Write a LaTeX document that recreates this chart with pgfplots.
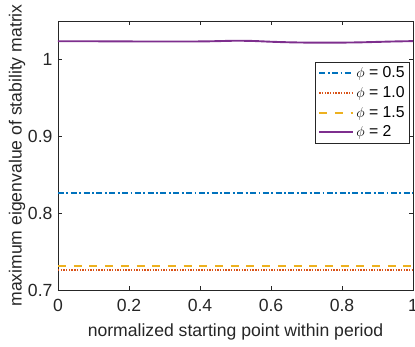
\documentclass[border=0pt]{standalone}
\usepackage{pgfplots}
\pgfplotsset{compat=1.18}
\usepackage{fontspec}
\setmainfont{Liberation Sans}
\definecolor{mblue}{rgb}{0,0.447,0.741}
\definecolor{morange}{rgb}{0.85,0.325,0.098}
\definecolor{myellow}{rgb}{0.929,0.694,0.125}
\definecolor{mpurple}{rgb}{0.494,0.184,0.556}
\definecolor{axgray}{rgb}{0.15,0.15,0.15}
\begin{document}
\begin{tikzpicture}
\begin{axis}[
  name=ax,
  scale only axis, width=355pt, height=269pt,
  xmin=0, xmax=1, ymin=0.7, ymax=1.05,
  xtick={0,0.2,0.4,0.6,0.8,1}, ytick={0.7,0.8,0.9,1},
  tick align=inside, major tick length=4pt,
  axis line style={color=axgray, line width=0.8pt},
  every tick/.style={color=axgray, line width=0.8pt},
  /pgf/number format/assume math mode=true,
  tick label style={font=\fontsize{17.6}{20}\selectfont, color=axgray},
  xticklabel style={yshift=-6pt},
  yticklabel style={xshift=-2pt},
  label style={font=\fontsize{17.6}{20}\selectfont, color=axgray},
  xlabel={normalized starting point within period},
  ylabel={maximum eigenvalue of stability matrix},
  xlabel style={at={(axis description cs:0.5,-0.156)}, anchor=center},
  ylabel style={at={(axis description cs:-0.1155,0.5)}, anchor=center},
  legend style={at={(axis description cs:0.9915,0.8476)}, anchor=north east,
    font=\fontsize{15.8}{18}\selectfont, draw=axgray, line width=0.8pt, fill=white,
    inner xsep=3pt, inner ysep=2.5pt, row sep=3.2pt},
  legend image code/.code={\draw[#1] (0pt,0pt) -- (34pt,0pt);},
  legend cell align=left,
]
\addplot[mblue, line width=2pt, dash pattern=on 6pt off 2.5pt on 1.8pt off 2.5pt] coordinates {(0,0.826) (1,0.826)};
\addlegendentry{$\phi$ = 0.5}
\addplot[morange, line width=1.9pt, dash pattern=on 1.4pt off 1.3pt] coordinates {(0,0.726) (1,0.726)};
\addlegendentry{$\phi$ = 1.0}
\addplot[myellow, line width=2pt, dash pattern=on 8pt off 7.7pt] coordinates {(0,0.7317) (1,0.7317)};
\addlegendentry{$\phi$ = 1.5}
\addplot[mpurple, line width=1.9pt, smooth] coordinates {
(0,1.0236) (0.1,1.0236) (0.2,1.0234) (0.3,1.0233) (0.4,1.0234) (0.45,1.0238)
(0.5,1.0243) (0.55,1.0240) (0.6,1.0230) (0.65,1.0223) (0.7,1.0219) (0.75,1.0218)
(0.8,1.0219) (0.85,1.0222) (0.9,1.0228) (0.95,1.0234) (1,1.0238)};
\addlegendentry{$\phi$ = 2}
\end{axis}
\pgfresetboundingbox
\path[use as bounding box] ([shift={(-58pt,-57pt)}]ax.south west) rectangle ([shift={(2pt,21pt)}]ax.north east);
\end{tikzpicture}
\end{document}
